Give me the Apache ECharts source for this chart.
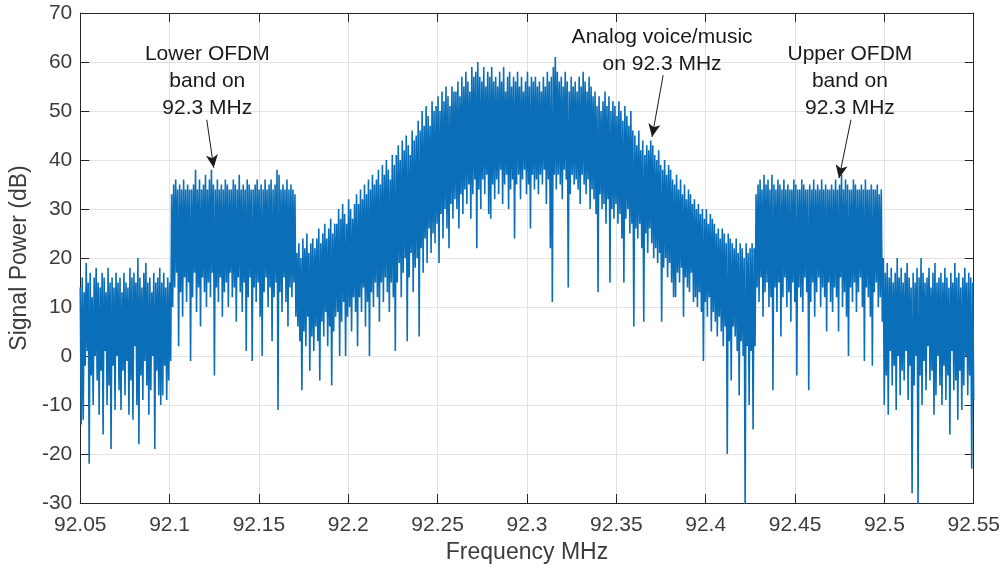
<!DOCTYPE html>
<html>
<head>
<meta charset="utf-8">
<script src="https://cdn.jsdelivr.net/npm/echarts@6/dist/echarts.min.js"></script>
<style>
  html, body { margin: 0; padding: 0; background: #fff; }
  #chart { width: 1003px; height: 569px; }
</style>
</head>
<body>
<div id="chart"></div>
<script>
// Received power spectrum around 92.3 MHz (HD Radio hybrid FM).
// Each FFT bin pair is stored as a local maximum followed by a local minimum (dB).
const freqStartMHz = 92.05;
const freqStopMHz = 92.55;

// 92.050 - 92.101 MHz : noise floor below the lower sideband
const lowerNoisePeaks = [
  14, 16, 13, 19, 15, 17, 12, 16, 18, 15,
  14, 17, 16, 13, 18, 15, 16, 14, 17, 15,
  16, 13, 17, 15, 14, 18, 16, 17, 15, 20,
  16, 14, 17, 19, 15, 16, 13, 17, 15, 16,
  18, 15, 17, 14, 16, 15
];
const lowerNoiseDips = [
  -14, -13, -2, 1, -22, -4, -10, 0, -5, -12,
  -3, -16, 1, -10, -6, -19, -2, -11, 0, -7,
  -11, -3, -8, -1, -12, -5, -13, 2, -10, -18,
  -4, -9, -1, -6, -12, -7, 0, -19, -3, -8,
  -10, -8, -2, -9, -5, -1
];

// 92.101 - 92.171 MHz : lower OFDM sideband
const lowerOfdmPeaks = [
  33, 35, 36, 34, 35, 34, 36, 34, 35, 34,
  34, 35, 38, 34, 36, 34, 35, 37, 34, 36,
  38, 35, 34, 36, 34, 35, 34, 36, 35, 34,
  34, 36, 35, 34, 37, 34, 35, 34, 36, 35,
  34, 34, 35, 36, 34, 35, 34, 36, 34, 35,
  36, 34, 35, 38, 37, 34, 35, 34, 36, 34,
  35, 34, 33
];
const lowerOfdmDips = [
  10, 14, 17, 2, 13, 8, 16, 11, 15, -1,
  12, 17, 9, 14, 6, 16, 13, 10, 15, 12,
  17, -4, 14, 11, 16, 8, 13, 15, 10, 17,
  12, 14, 7, 16, 13, 9, 15, 1, 12, 16,
  -1, 14, 11, 15, 8, 0, 13, 16, 10, 14,
  3, 12, 15, -11, 13, 9, 16, 11, 6, 14,
  12, 15, 8
];

// 92.171 - 92.428 MHz : analog FM voice/music
const analogPeaks = [
  21, 23, 20, 24, 22, 25, 21, 23, 24, 22,
  24, 26, 23, 25, 27, 24, 26, 28, 25, 27,
  27, 30, 28, 31, 29, 27, 32, 30, 28, 31,
  33, 31, 34, 32, 35, 33, 36, 34, 37, 35,
  36, 38, 35, 39, 37, 40, 38, 36, 41, 39,
  41, 43, 40, 44, 42, 45, 43, 41, 46, 44,
  45, 48, 46, 50, 47, 51, 49, 47, 52, 50,
  51, 53, 50, 54, 52, 55, 53, 51, 55, 54,
  54, 56, 53, 57, 55, 58, 56, 54, 59, 57,
  58, 60, 57, 56, 59, 55, 58, 57, 59, 56,
  57, 55, 58, 56, 59, 54, 57, 58, 55, 57,
  56, 58, 55, 57, 54, 56, 58, 55, 57, 56,
  57, 55, 56, 54, 57, 55, 58, 56, 57, 59,
  61, 58, 56, 57, 55, 58, 56, 54, 57, 55,
  56, 54, 57, 55, 58, 56, 54, 57, 55, 53,
  54, 51, 53, 50, 52, 54, 51, 53, 50, 52,
  51, 49, 52, 50, 48, 51, 49, 47, 50, 46,
  45, 43, 46, 42, 44, 41, 43, 42, 44, 43,
  41, 40, 42, 39, 38, 40, 37, 39, 38, 36,
  35, 37, 34, 36, 33, 35, 32, 34, 33, 31,
  32, 30, 31, 29, 30, 28, 30, 27, 29, 28,
  27, 25, 26, 24, 26, 25, 23, 25, 24, 23,
  22, 24, 21, 23, 22, 20, 23, 21, 22, 23,
  22
];
const analogDips = [
  6, 3, -7, 5, 2, 8, -3, 4, 1, 6,
  3, -5, 7, 4, 9, 2, 6, -6, 5, 8,
  9, 0, 7, 11, 0, 8, 10, 5, 12, 9,
  2, 12, 9, 14, 6, 11, 0, 13, 10, 15,
  12, 7, 15, 11, 16, 13, 9, 15, 12, 1,
  15, 19, 12, 17, 20, 3, 16, 21, 13, 18,
  20, 4, 22, 17, 24, 19, 26, 21, 25, 23,
  27, 19, 29, 24, 30, 26, 22, 31, 28, 32,
  30, 26, 33, 29, 34, 31, 35, 28, 33, 36,
  22, 34, 30, 36, 33, 37, 29, 28, 35, 32,
  36, 33, 38, 31, 35, 37, 30, 34, 36, 24,
  35, 37, 32, 36, 38, 33, 35, 26, 37, 34,
  36, 33, 37, 35, 38, 31, 36, 22, 11, 37,
  34, 37, 35, 32, 38, 36, 14, 33, 37, 35,
  36, 34, 31, 37, 35, 33, 36, 30, 34, 32,
  29, 13, 33, 30, 31, 27, 32, 15, 30, 28,
  31, 27, 29, 24, 15, 28, 30, 25, 27, 6,
  26, 24, 27, 22, 7, 25, 21, 26, 23, 20,
  22, 19, 21, 7, 18, 20, 16, 19, 15, 12,
  12, 17, 15, 18, 8, 16, 14, 13, 17, 11,
  12, 10, 13, 9, -1, 11, 8, 12, 5, 9,
  7, 4, 8, 5, 2, 6, -20, 3, -5, 6,
  4, 1, -8, 3, 0, -31, 2, -10, 1, -15,
  2
];

// 92.428 - 92.498 MHz : upper OFDM sideband
const upperOfdmPeaks = [
  33, 35, 36, 34, 37, 35, 36, 34, 37, 35,
  34, 36, 35, 34, 36, 34, 35, 34, 34, 36,
  35, 34, 34, 36, 35, 34, 34, 35, 34, 36,
  34, 35, 34, 36, 34, 35, 34, 34, 35, 34,
  36, 34, 35, 37, 34, 36, 35, 34, 34, 36,
  35, 34, 34, 35, 34, 36, 34, 34, 35, 34,
  34, 35, 33, 34
];
const upperOfdmDips = [
  14, 11, 16, 8, 13, 15, 10, 12, -7, 14,
  9, 15, 4, 12, 16, 10, 13, 7, 15, 11,
  -4, 14, 12, 9, 16, 13, -7, 11, 15, 8,
  13, 16, 10, 14, 12, 5, 15, 11, 9, 14,
  12, 5, 16, 10, 13, 8, 0, 14, 11, 15,
  9, 13, 16, 10, -1, 14, 12, 8, -2, 13,
  15, 10, 12, 7
];

// 92.498 - 92.550 MHz : noise floor above the upper sideband
const upperNoisePeaks = [
  20, 17, 19, 16, 18, 15, 17, 20, 16, 18,
  15, 17, 19, 16, 14, 17, 15, 18, 16, 20,
  17, 15, 16, 18, 14, 17, 19, 15, 16, 17,
  15, 18, 16, 14, 17, 15, 19, 16, 17, 14,
  16, 18, 15, 17, 16, 15
];
const upperNoiseDips = [
  -10, -4, -12, 1, -6, -2, -11, 0, -8, -3,
  -5, 1, -9, -2, -28, -6, 0, -31, -4, -10,
  -1, -7, 2, -5, -3, -12, -8, 0, -6, -10,
  -2, -9, -4, -16, 1, -7, -5, -13, -3, -11,
  -6, 0, -8, -4, -23, -9
];

const xTicks = { min: 92.05, max: 92.55, step: 0.05 };
const yTicks = { min: -30, max: 70, step: 10 };

const annotationLabels = [
  { lines: ['Lower OFDM', 'band on', '92.3 MHz'], at: [92.1211, 64.4] },
  { lines: ['Analog voice/music', 'on 92.3 MHz'], at: [92.3756, 67.8] },
  { lines: ['Upper OFDM', 'band on', '92.3 MHz'], at: [92.4807, 64.4] }
];
const annotationArrows = [
  { from: [92.1208, 48.2], to: [92.1247, 38.4] },
  { from: [92.3762, 57.3], to: [92.3700, 44.7] },
  { from: [92.4813, 48.2], to: [92.4746, 36.3] }
];

// Interleave maxima and minima on the uniform frequency grid
const peakDb = [].concat(lowerNoisePeaks, lowerOfdmPeaks, analogPeaks, upperOfdmPeaks, upperNoisePeaks);
const dipDb = [].concat(lowerNoiseDips, lowerOfdmDips, analogDips, upperOfdmDips, upperNoiseDips);
const binCount = peakDb.length * 2;
const binWidth = (freqStopMHz - freqStartMHz) / (binCount - 1);
const spectrum = [];
for (let i = 0; i < peakDb.length; i++) {
  spectrum.push([freqStartMHz + 2 * i * binWidth, peakDb[i]]);
  spectrum.push([freqStartMHz + (2 * i + 1) * binWidth, dipDb[i]]);
}

const FONT = '"Liberation Sans", Arial, Helvetica, sans-serif';
const AXIS_DARK = '#262626';
const LABEL_GRAY = '#3c3c3c';
const GRID_GRAY = '#e3e3e3';

const chart = echarts.init(document.getElementById('chart'), null, { renderer: 'canvas' });

// Top and right axes close the box (ticks only, no labels)
const boxAxis = {
  axisLine: { show: true, onZero: false, lineStyle: { color: AXIS_DARK, width: 1 } },
  axisTick: { show: true, inside: true, length: 9, lineStyle: { color: AXIS_DARK } },
  axisLabel: { show: false },
  splitLine: { show: false }
};

chart.setOption({
  animation: false,
  backgroundColor: '#fff',
  grid: { left: 77, top: 13, width: 898, height: 490, containLabel: false },
  xAxis: [
    {
      type: 'value',
      min: xTicks.min, max: xTicks.max, interval: xTicks.step,
      name: 'Frequency MHz',
      nameLocation: 'middle',
      nameGap: 38,
      nameTextStyle: { fontFamily: FONT, fontSize: 23, color: LABEL_GRAY },
      axisLine: { show: true, onZero: false, lineStyle: { color: AXIS_DARK, width: 1 } },
      axisTick: { show: true, inside: true, length: 9, lineStyle: { color: AXIS_DARK } },
      axisLabel: {
        fontFamily: FONT, fontSize: 21, color: LABEL_GRAY, margin: 12,
        formatter: v => String(parseFloat(v.toFixed(3)))
      },
      splitLine: { show: true, lineStyle: { color: GRID_GRAY, width: 1 } }
    },
    Object.assign({ type: 'value', position: 'top', min: xTicks.min, max: xTicks.max, interval: xTicks.step }, boxAxis)
  ],
  yAxis: [
    {
      type: 'value',
      min: yTicks.min, max: yTicks.max, interval: yTicks.step,
      name: 'Signal Power (dB)',
      nameLocation: 'middle',
      nameGap: 46,
      nameTextStyle: { fontFamily: FONT, fontSize: 23, color: LABEL_GRAY },
      axisLine: { show: true, onZero: false, lineStyle: { color: AXIS_DARK, width: 1 } },
      axisTick: { show: true, inside: true, length: 9, lineStyle: { color: AXIS_DARK } },
      axisLabel: { fontFamily: FONT, fontSize: 21, color: LABEL_GRAY, margin: 8 },
      splitLine: { show: true, lineStyle: { color: GRID_GRAY, width: 1 } }
    },
    Object.assign({ type: 'value', position: 'right', min: yTicks.min, max: yTicks.max, interval: yTicks.step }, boxAxis)
  ],
  series: [
    {
      type: 'line',
      data: spectrum,
      xAxisIndex: 0,
      yAxisIndex: 0,
      symbol: 'none',
      showSymbol: false,
      sampling: null,
      clip: true,
      silent: true,
      lineStyle: { color: '#0a6fb8', width: 1.6, join: 'bevel' },
      markLine: {
        silent: true,
        animation: false,
        symbol: ['none', 'arrow'],
        symbolSize: [9, 13],
        label: { show: false },
        lineStyle: { color: '#1a1a1a', width: 1, type: 'solid' },
        emphasis: { disabled: true },
        data: annotationArrows.map(a => [{ coord: a.from }, { coord: a.to }])
      }
    }
  ]
});

// Annotation text blocks, placed in data coordinates
const textGraphics = annotationLabels.map(a => {
  const p = chart.convertToPixel({ xAxisIndex: 0, yAxisIndex: 0 }, a.at);
  return {
    type: 'text',
    x: p[0],
    y: p[1],
    silent: true,
    style: {
      text: a.lines.join('\n'),
      font: '21px ' + FONT,
      fill: '#1a1a1a',
      align: 'center',
      verticalAlign: 'top',
      lineHeight: 27
    }
  };
});
chart.setOption({ graphic: textGraphics });
</script>
</body>
</html>
